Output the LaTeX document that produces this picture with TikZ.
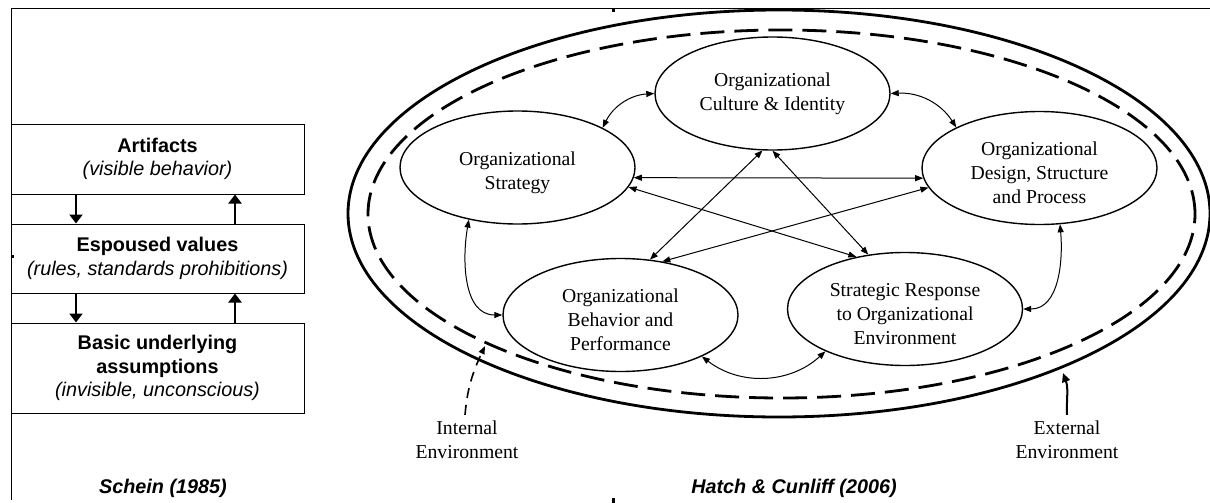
\documentclass[tikz,border=0pt]{standalone}
\usepackage{fontspec}
\setmainfont{Liberation Serif}
\setsansfont{Liberation Sans}
\usepackage{tikz}
\usetikzlibrary{shapes.geometric}
\usetikzlibrary{arrows.meta}

\newcommand{\lowtop}{\rule{0pt}{12pt}}

\tikzset{
  layer/.style={draw,rectangle,line width=.5pt,minimum width=146.5pt,inner sep=0pt,
    align=center,font=\sffamily\fontsize{9.9}{11.8}\selectfont},
  orgpart/.style={draw,ellipse,line width=.7pt,minimum width=117.5pt,minimum height=56.5pt,
    inner sep=0pt,align=center,font=\fontsize{9.85}{12}\selectfont},
  envlabel/.style={align=center,inner sep=0pt,font=\fontsize{9.85}{11.8}\selectfont},
  source/.style={inner sep=0pt,font=\sffamily\bfseries\itshape\fontsize{9.9}{11.8}\selectfont},
  layerarrow/.style={-{Triangle[length=4.5pt,width=6.5pt]},line width=1pt},
  link/.style={<->,line width=.5pt}
}

\begin{document}
\begin{tikzpicture}[x=.5pt,y=.5pt,>={Triangle[length=4pt,width=3pt]}]
  \useasboundingbox (0,0) rectangle (1210,-503);
  % frame
  \draw[line width=.5pt] (1210,-8) -- (11,-8) -- (11,-500);
  \fill (612,-8) rectangle (615,-12);
  \fill (612,-498) rectangle (615,-503);
  \fill (11,-255) rectangle (14,-258);

  % Schein
  \node[layer,minimum height=35pt] (art) at (157.5,-159)
    {\textbf{Artifacts}\\\textit{(visible behavior)}};
  \node[layer,minimum height=34.5pt] (esp) at (157.5,-258.5)
    {\textbf{Espoused values}\\\textit{(rules, standards prohibitions)}};
  \node[layer,minimum height=45pt] (basic) at (157.5,-368)
    {\textbf{Basic underlying}\\\textbf{assumptions}\\\textit{(invisible, unconscious)}};
  \draw[layerarrow] ([xshift=-40.75pt]art.south) -- ([xshift=-40.75pt]esp.north);
  \draw[layerarrow] ([xshift=38.75pt]esp.north) -- ([xshift=38.75pt]art.south);
  \draw[layerarrow] ([xshift=-40.75pt]esp.south) -- ([xshift=-40.75pt]basic.north);
  \draw[layerarrow] ([xshift=38.75pt]basic.north) -- ([xshift=38.75pt]esp.south);
  \node[source] (schein) at (163,-488) {Schein (1985)};

  % Hatch & Cunliff
  \draw[line width=1.4pt] (779,-213.5) ellipse [x radius=431,y radius=203.5];
  \draw[line width=1.4pt,dash pattern=on 12pt off 5pt] (781.5,-214) ellipse [x radius=413.5,y radius=184];

  \node[orgpart] (cult) at (772.5,-93.5) {Organizational\\Culture \& Identity};
  \node[orgpart] (strat) at (517.5,-167.5) {\lowtop Organizational\\Strategy};
  \node[orgpart] (design) at (1039.5,-168) {\lowtop Organizational\\Design, Structure\\and Process};
  \node[orgpart] (behav) at (620.5,-315) {\lowtop Organizational\\Behavior and\\Performance};
  \node[orgpart] (resp) at (905,-309) {\lowtop Strategic Response\\to Organizational\\Environment};

  \draw[link] (strat.25) to[bend left=30] (cult.180);
  \draw[link] (cult.0) to[bend left=30] (design.154);
  \draw[link] (strat.227) to[out=260,in=180] (behav.180);
  \draw[link] (design.290) to[out=275,in=0] (resp.0);
  \draw[link] (behav.333) to[bend right=40] (resp.208);
  \draw[link] (strat.-5) -- (design.185);
  \draw[link] (strat.-10) -- (resp.133);
  \draw[link] (cult.260) -- (behav.62);
  \draw[link] (cult.270) -- (resp.124);
  \draw[link] (design.190) -- (behav.52);

  \node[envlabel] (intenv) at (467,-440) {Internal\\Environment};
  \node[envlabel] (extenv) at (1067,-440) {External\\Environment};
  \coordinate (inttip) at (485,-346);
  \coordinate (exttip) at (1063,-373);
  \draw[->,line width=.8pt,dash pattern=on 5pt off 3.5pt]
    ([xshift=-1pt,yshift=3pt]intenv.north) to[out=85,in=245] (inttip);
  \draw[-{Triangle[length=4.5pt,width=4pt]},line width=1pt]
    ([yshift=3pt]extenv.north) to[out=92,in=-70] (exttip);
  \node[source] (hatch) at (794,-488) {Hatch \& Cunliff (2006)};
\end{tikzpicture}
\end{document}
